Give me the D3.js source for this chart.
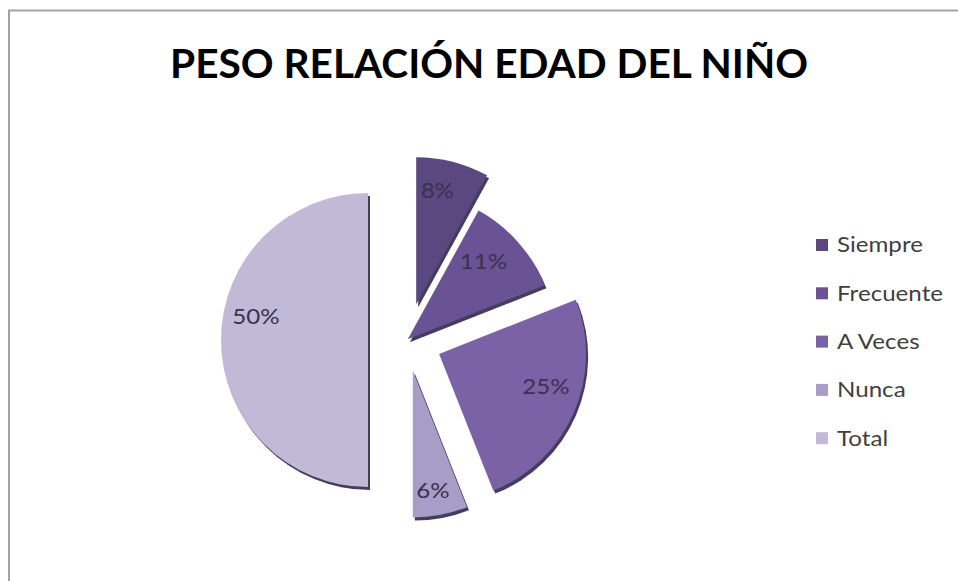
<!DOCTYPE html>
<html>
<head>
<meta charset="utf-8">
<script src="https://cdn.jsdelivr.net/npm/d3@7"></script>
<style>
  html, body { margin: 0; padding: 0; background: #ffffff; }
  svg { display: block; }
</style>
</head>
<body>
<svg id="chart" width="958" height="581"></svg>
<script>
// Chart data
const title = "PESO RELACIÓN EDAD DEL NIÑO";
const categories = ["Siempre", "Frecuente", "A Veces", "Nunca", "Total"];
const values = [8, 11, 25, 6, 50];
const colors = ["#5b4880", "#6a5394", "#7b61a5", "#a89dc7", "#c0bad6"];

// Layout
const W = 958, H = 581;
const cx = 407, cy = 340, R = 147;
const explode = [37, 1, 35, 31, 39];          // per-slice offset along its mid-angle
const labelR = 113;
const labelNudge = [[-7, -4], [-9, -3], [3, -12], [-1, 9], [1, -23]];
const stretchX = 1.15;                          // horizontal widening of body text

const svg = d3.select("#chart");
const font = "Lato, 'Open Sans', sans-serif";

// Frame
svg.append("path")
  .attr("d", `M9,${H + 5} L9,10.5 L${W + 5},10.5`)
  .attr("fill", "none")
  .attr("stroke", "#a3a3a3")
  .attr("stroke-width", 2);

// Title
svg.append("text")
  .attr("x", 489).attr("y", 78)
  .attr("text-anchor", "middle")
  .attr("font-family", font)
  .attr("font-weight", "bold")
  .attr("font-size", 40)
  .attr("fill", "#000")
  .attr("textLength", 638)
  .attr("lengthAdjust", "spacingAndGlyphs")
  .text(title);

// Soft edge for the slice shadows
const defs = svg.append("defs");
defs.append("filter").attr("id", "soft")
  .attr("x", "-10%").attr("y", "-10%").attr("width", "130%").attr("height", "130%")
  .append("feGaussianBlur").attr("stdDeviation", 0.7);

const pie = d3.pie().sort(null).value(d => d)(values);
const arc = d3.arc().innerRadius(0).outerRadius(R);
const labelArc = d3.arc().innerRadius(labelR).outerRadius(labelR);

const slices = svg.append("g").attr("transform", `translate(${cx},${cy})`)
  .selectAll("g.slice")
  .data(pie)
  .join("g")
  .attr("class", "slice")
  .attr("transform", (d, i) => {
    const a = (d.startAngle + d.endAngle) / 2;
    return `translate(${Math.sin(a) * explode[i]},${-Math.cos(a) * explode[i]})`;
  });

// shadow under each slice
slices.append("path")
  .attr("d", arc)
  .attr("transform", "translate(2,3)")
  .attr("fill", "#453c5c")
  .attr("filter", "url(#soft)");

// slice face
slices.append("path")
  .attr("d", arc)
  .attr("fill", (d, i) => colors[i]);

// value labels
const total = d3.sum(values);
slices.append("text")
  .attr("transform", (d, i) => {
    const [x, y] = labelArc.centroid(d);
    return `translate(${x + labelNudge[i][0]},${y + labelNudge[i][1]}) scale(${stretchX},1)`;
  })
  .attr("text-anchor", "middle")
  .attr("dy", "0.35em")
  .attr("font-family", font)
  .attr("font-size", 21)
  .attr("fill", "#3a3150")
  .text(d => Math.round(d.data / total * 100) + "%");

// Legend
const legend = svg.append("g").attr("transform", "translate(816,245)");
const rows = legend.selectAll("g").data(categories).join("g")
  .attr("transform", (d, i) => `translate(0,${i * 48.3})`);
rows.append("rect")
  .attr("x", 0).attr("y", -6).attr("width", 12).attr("height", 12)
  .attr("fill", (d, i) => colors[i]);
rows.append("text")
  .attr("transform", `translate(21,0) scale(${stretchX},1)`)
  .attr("dy", "0.35em")
  .attr("font-family", font)
  .attr("font-size", 21)
  .attr("fill", "#3f3f3f")
  .text(d => d);
</script>
</body>
</html>
